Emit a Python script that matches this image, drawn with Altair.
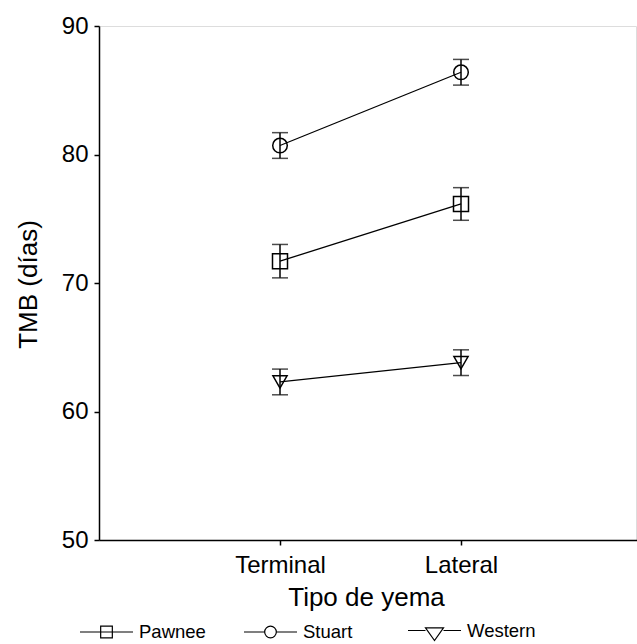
import altair as alt
import pandas as pd

# ---- data ----
variedades = ["Pawnee", "Stuart", "Western"]
tipos = ["Terminal", "Lateral"]
pawnee_media = [71.7, 76.15]
pawnee_error = [1.3, 1.27]
stuart_media = [80.7, 86.4]
stuart_error = [1.0, 1.0]
western_media = [62.3, 63.8]
western_error = [1.0, 1.0]
y_ticks = [50, 60, 70, 80, 90]

rows = []
for nombre, medias, errs in [("Pawnee", pawnee_media, pawnee_error),
                             ("Stuart", stuart_media, stuart_error),
                             ("Western", western_media, western_error)]:
    for t, m, e in zip(tipos, medias, errs):
        rows.append({"variedad": nombre, "tipo": t, "media": m, "lo": m - e, "hi": m + e})
df = pd.DataFrame(rows)

FONT = "Liberation Sans"
W, H = 537, 514

x_enc = alt.X(
    "tipo:N",
    scale=alt.Scale(type="point", domain=tipos, range=[0, 543], padding=1),
    axis=alt.Axis(
        title="Tipo de yema", labelAngle=0, labelFontSize=24, titleFontSize=26,
        labelPadding=8, tickSize=5, tickWidth=1.5, domainWidth=1.5,
        titleX=267, titleY=65, titleBaseline="alphabetic", titleFontWeight="normal",
        labelColor="black", titleColor="black", domainColor="black", tickColor="black",
        grid=False,
    ),
)
y_scale = alt.Scale(domain=[50, 90], nice=False, zero=False)
y_axis = alt.Axis(
    title="TMB (días)", values=y_ticks, labelFontSize=24, titleFontSize=26,
    labelPadding=6, tickSize=5, tickWidth=1.5, domainWidth=1.5,
    titleX=-63, titleY=258, titleAngle=270, titleBaseline="alphabetic",
    titleAlign="center", titleFontWeight="normal",
    labelColor="black", titleColor="black", domainColor="black", tickColor="black",
    grid=False,
)

base = alt.Chart(df)

rules = base.mark_rule(color="black", strokeWidth=1.5).encode(
    x=x_enc, y=alt.Y("lo:Q", scale=y_scale, axis=y_axis), y2="hi:Q"
)
caps_lo = base.mark_tick(color="black", size=16, thickness=1.5, orient="horizontal").encode(
    x=x_enc, y=alt.Y("lo:Q", scale=y_scale, axis=y_axis)
)
caps_hi = base.mark_tick(color="black", size=16, thickness=1.5, orient="horizontal").encode(
    x=x_enc, y=alt.Y("hi:Q", scale=y_scale, axis=y_axis)
)
lines = base.mark_line(color="black", strokeWidth=1.3).encode(
    x=x_enc, y=alt.Y("media:Q", scale=y_scale, axis=y_axis), detail="variedad:N"
)
points = base.mark_point(filled=False, color="black", strokeWidth=1.5, opacity=1).encode(
    x=x_enc,
    y=alt.Y("media:Q", scale=y_scale, axis=y_axis),
    shape=alt.Shape("variedad:N",
                    scale=alt.Scale(domain=variedades, range=["square", "circle", "triangle-down"]),
                    legend=None),
    size=alt.Size("variedad:N",
                  scale=alt.Scale(domain=variedades, range=[225, 200, 280]),
                  legend=None),
)

legend_shapes = [
    "M-1,0H1M-0.22,-0.22H0.22V0.22H-0.22Z",
    "M-1,0H-0.22M0.22,0H1M0.22,0A0.22,0.22 0 1,1 -0.22,0A0.22,0.22 0 1,1 0.22,0Z",
    "M-1,0H-0.34M0.34,0H1M-0.34,-0.1H0.34L0,0.38Z",
]
legend_layer = base.transform_filter("false").mark_point(
    filled=False, color="black", strokeWidth=1.2, opacity=1
).encode(
    x=x_enc,
    y=alt.Y("media:Q", scale=y_scale, axis=y_axis),
    shape=alt.Shape(
        "variedad:N",
        scale=alt.Scale(domain=variedades, range=legend_shapes),
        legend=alt.Legend(
            title=None, orient="none", legendX=-20, legendY=577,
            direction="horizontal", columns=3, symbolSize=2809,
            symbolStrokeWidth=1.2, symbolStrokeColor="black", symbolFillColor="transparent",
            labelFontSize=18.5, labelFont=FONT, labelColor="black", labelOffset=5,
            columnPadding=33, gridAlign="all", padding=0, symbolOpacity=1,
        ),
    ),
)

chart = (
    alt.layer(rules, caps_lo, caps_hi, lines, points, legend_layer)
    .resolve_scale(shape="independent")
    .properties(
        width=W, height=H,
        autosize=alt.AutoSizeParams(type="none"),
        padding={"left": 99, "top": 26, "right": 1, "bottom": 104},
    )
    .configure_view(stroke=None)
    .configure(font=FONT)
    .configure_axis(labelFont=FONT, titleFont=FONT)
)

chart.save("out.html", embed_options={"renderer": "svg", "actions": False})
